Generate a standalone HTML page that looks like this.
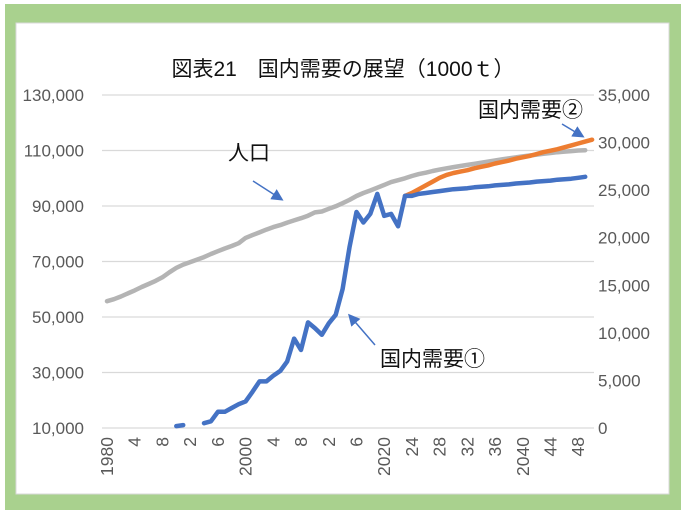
<!DOCTYPE html>
<html><head><meta charset="utf-8"><style>
html,body{margin:0;padding:0;background:#fff}
#wrap{position:relative;width:686px;height:524px;overflow:hidden}
svg text{font-family:"Liberation Sans","Noto Sans CJK JP",sans-serif}
</style></head><body>
<div id="wrap">
<svg id="chart" width="686" height="524">
<rect x="0" y="0" width="686" height="524" fill="#ffffff"/>
<rect x="5" y="4" width="676" height="506" fill="#a9d18e"/>
<rect x="16" y="23" width="653" height="471" fill="#ffffff" stroke="#d9d9d9" stroke-width="1"/>
<text x="343" y="76" text-anchor="middle" font-size="21" fill="#111">図表21　国内需要の展望（1000ｔ）</text>
<g id="grid"></g><g id="series"></g><g id="axes"></g>
<text x="228" y="160" font-size="21" fill="#111">人口</text>
<text x="478" y="117" font-size="21" fill="#111">国内需要②</text>
<text x="380" y="366" font-size="21" fill="#111">国内需要①</text>
<defs><marker id="ah" markerWidth="8" markerHeight="8" refX="6" refY="4" orient="auto"><path d="M0,0 L8,4 L0,8 z" fill="#4472c4"/></marker></defs>
<line x1="253" y1="181" x2="281" y2="199" stroke="#4472c4" stroke-width="1.5" marker-end="url(#ah)"/>
<line x1="562" y1="124" x2="582" y2="136" stroke="#4472c4" stroke-width="1.5" marker-end="url(#ah)"/>
<line x1="375" y1="345" x2="350" y2="316" stroke="#4472c4" stroke-width="1.5" marker-end="url(#ah)"/>
</svg></div>
<script>
const years = Array.from({length:70},(_,i)=>1980+i);
const leftTicks = [10000,30000,50000,70000,90000,110000,130000];
const rightTicks = [0,5000,10000,15000,20000,25000,30000,35000];
const population = [55700,56400,57400,58500,59600,60800,61900,63000,64300,66100,67700,68900,69800,70700,71600,72700,73700,74700,75600,76600,78500,79500,80500,81500,82400,83100,84000,84800,85600,86500,87700,88000,89000,89900,91000,92200,93600,94700,95600,96600,97600,98600,99300,100000,100800,101500,102000,102600,103100,103600,104000,104400,104800,105200,105600,106000,106400,106800,107200,107500,107900,108200,108500,108800,109100,109400,109600,109800,110000,110100];
const demand1 = [null,null,null,null,null,null,null,null,null,null,200,300,null,null,500,700,1700,1700,2100,2500,2800,3800,4900,4900,5500,6000,7000,9400,8200,11100,10500,9800,11000,11900,14600,19000,22700,21600,22500,24600,22300,22500,21200,24400,24400,24600,24700,24800,24900,25000,25100,25150,25200,25300,25350,25400,25500,25550,25600,25700,25750,25800,25900,25950,26000,26100,26150,26200,26300,26400];
const demand2 = [...Array(43).fill(null),24400,24700,25100,25500,25900,26300,26600,26800,26950,27100,27300,27450,27600,27800,27950,28100,28300,28450,28600,28800,29000,29150,29300,29500,29700,29900,30100,30300];
const X0=102,X1=594,Y0=428,Y1=95;
const bw=6.93;
const xs=i=>107+bw*i;
const yL=v=>Y0-(v-10000)/120000*(Y0-Y1);
const yR=v=>Y0-v/35000*(Y0-Y1);
const NS='http://www.w3.org/2000/svg';
function mk(tag,attrs,parent){const e=document.createElementNS(NS,tag);for(const k in attrs)e.setAttribute(k,attrs[k]);parent.appendChild(e);return e;}
const grid=document.getElementById('grid'),ser=document.getElementById('series'),ax=document.getElementById('axes');
leftTicks.forEach(v=>{
  const l=mk('line',{x1:X0,x2:X1,y1:yL(v),y2:yL(v),stroke:'#d9d9d9','stroke-width':1.3},grid);
  
  
  const t=mk('text',{x:84,y:yL(v)+6,'text-anchor':'end','font-size':17,fill:'#595959'},ax);
  t.textContent=v.toLocaleString('en-US');
  
  
});
rightTicks.forEach(v=>{
  const t=mk('text',{x:598,y:yR(v)+6,'font-size':17,fill:'#595959'},ax);
  t.textContent=v.toLocaleString('en-US');
  
  
});
years.forEach((y,i)=>{
  if((y-1980)%4!==0)return;
  const x=xs(i)+6,yy=437;
  const t=mk('text',{x:x,y:yy,'text-anchor':'end','font-size':17.5,fill:'#595959',transform:`rotate(-90 ${x} ${yy})`},ax);
  t.textContent=(y%20===0)?String(y):String(y%10===0?y%100:(y>=2020?y%100:y%10));
  
  
});
function line(data,yf,color,name){
  let d='',pen=false;
  data.forEach((v,i)=>{if(v==null){pen=false;return;}d+=(pen?'L':'M')+xs(i).toFixed(1)+','+yf(v).toFixed(1)+' ';pen=true;});
  const p=mk('path',{d:d,fill:'none',stroke:color,'stroke-width':4.5,'stroke-linejoin':'round','stroke-linecap':'round'},ser);
  
  
}
line(population,yL,'#b4b4b4','population-line');
line(demand2,yR,'#ed7d31','demand2-line');
line(demand1,yR,'#4472c4','demand1-line');
</script>
</body></html>
